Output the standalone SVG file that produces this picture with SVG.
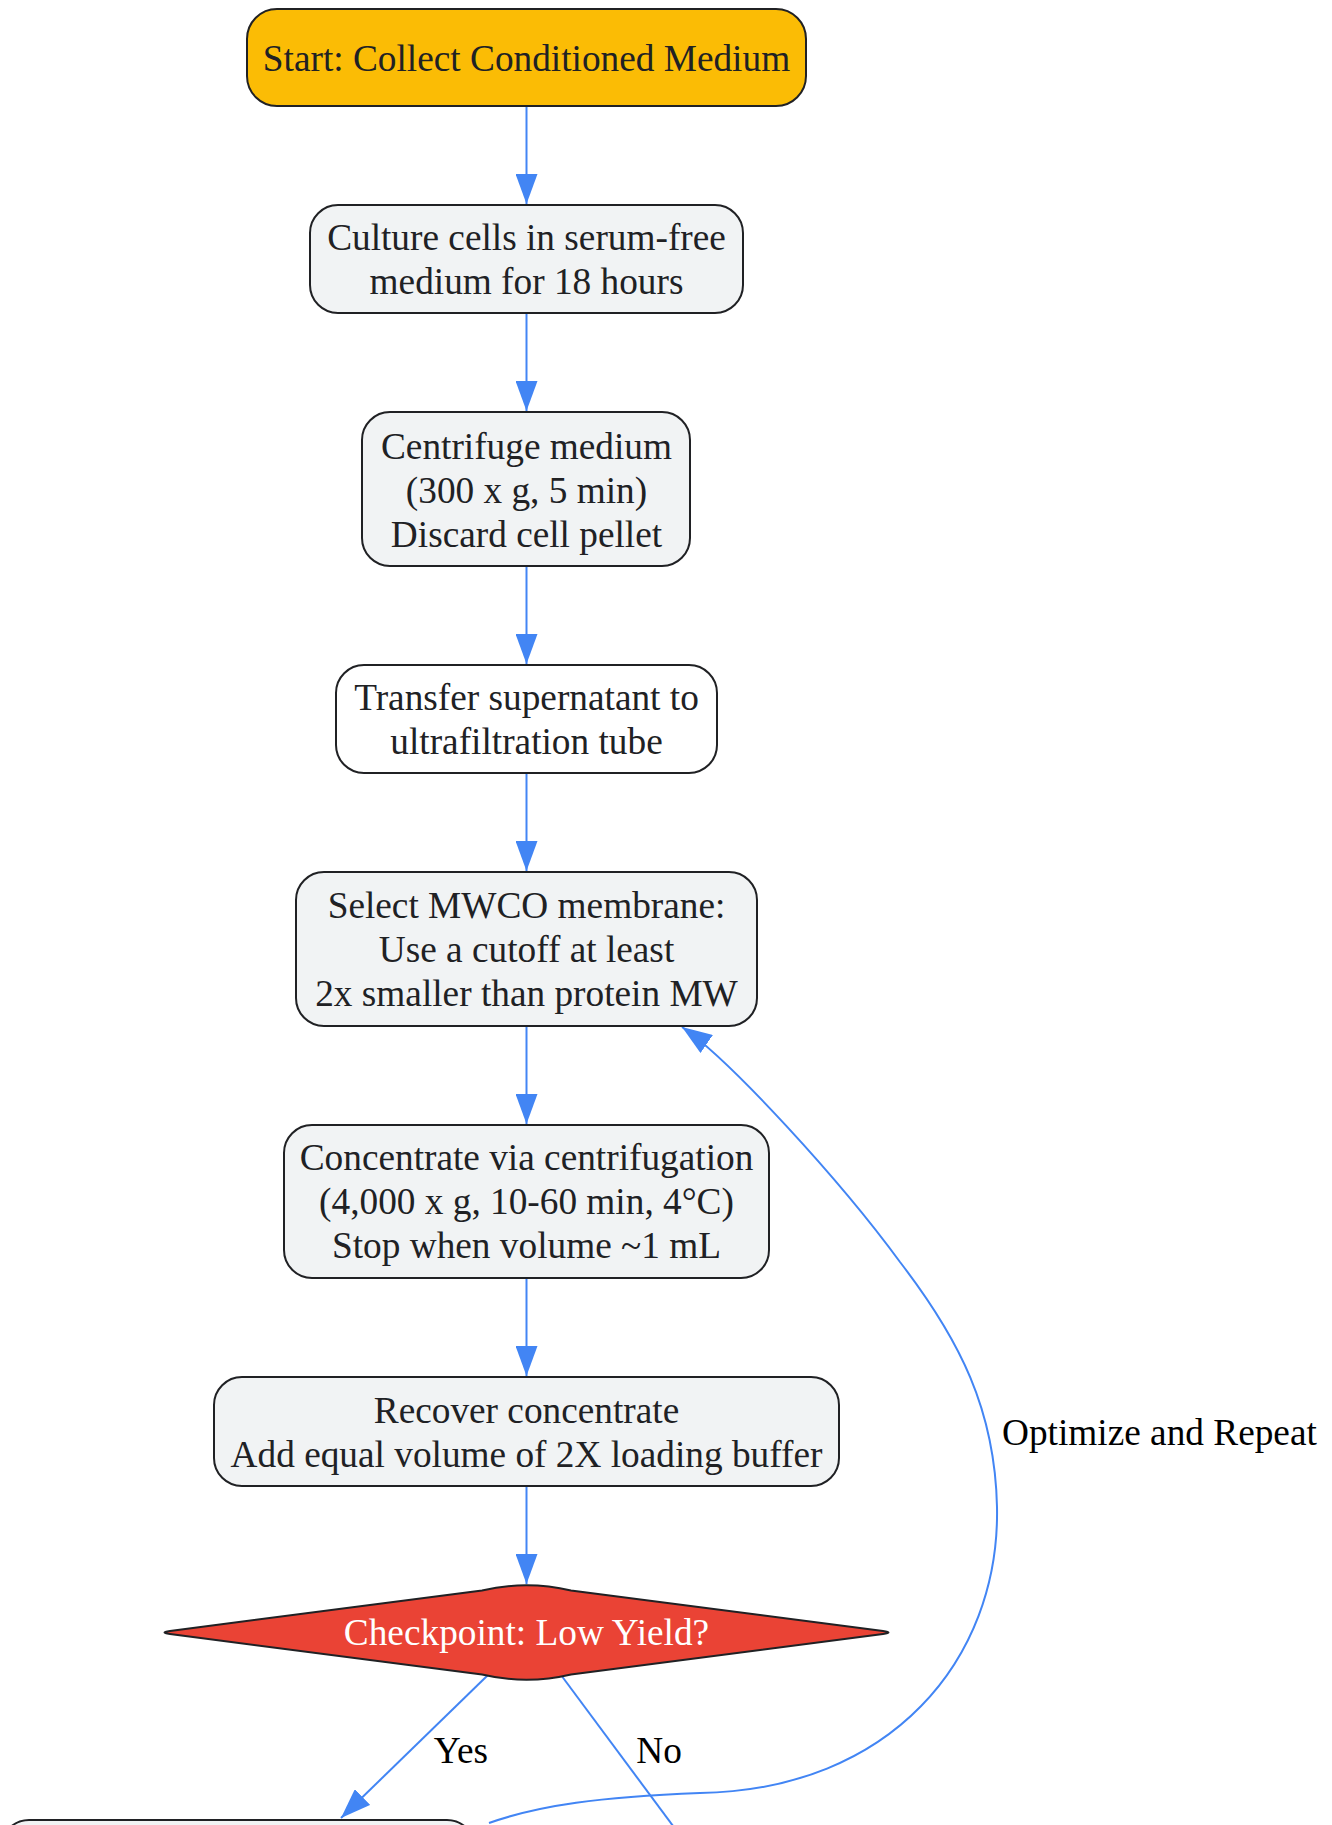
<svg xmlns="http://www.w3.org/2000/svg" width="1332" height="1825" viewBox="0 0 1332 1825">
  <style>
    .node rect, .node path { stroke: #202124; stroke-width: 2; }
    .proc { fill: #F1F3F4; }
    .t { font-family: "Liberation Serif", "Times New Roman", serif; font-size: 37.3px; fill: #202124; text-anchor: middle; }
    .lbl { font-family: "Liberation Serif", "Times New Roman", serif; font-size: 37.3px; fill: #000000; }
    .edge { fill: none; stroke: #4285F4; stroke-width: 2; }
  </style>
  <defs>
    <marker id="arrow" markerUnits="userSpaceOnUse" markerWidth="30" markerHeight="22" refX="30" refY="11" orient="auto">
      <path d="M0,0 L30,11 L0,22 Z" fill="#4285F4"/>
    </marker>
  </defs>
  <rect width="1332" height="1825" fill="#ffffff"/>

  <g id="connectors">
    <line class="edge" x1="526.5" y1="106" x2="526.5" y2="204" marker-end="url(#arrow)"/>
    <line class="edge" x1="526.5" y1="313" x2="526.5" y2="411" marker-end="url(#arrow)"/>
    <line class="edge" x1="526.5" y1="566" x2="526.5" y2="664" marker-end="url(#arrow)"/>
    <line class="edge" x1="526.5" y1="773" x2="526.5" y2="871" marker-end="url(#arrow)"/>
    <line class="edge" x1="526.5" y1="1026" x2="526.5" y2="1124" marker-end="url(#arrow)"/>
    <line class="edge" x1="526.5" y1="1278" x2="526.5" y2="1376" marker-end="url(#arrow)"/>
    <line class="edge" x1="526.5" y1="1486" x2="526.5" y2="1584" marker-end="url(#arrow)"/>
    <line class="edge" x1="488" y1="1675" x2="341" y2="1818" marker-end="url(#arrow)"/>
    <line class="edge" x1="561" y1="1675" x2="728" y2="1900"/>
    <path class="edge" d="M 489 1823 C 540 1805, 600 1797, 700 1793 C 890 1790, 1000 1660, 997 1507 C 995 1410, 960 1340, 900 1262 C 840 1180, 730 1060, 682 1027" marker-end="url(#arrow)"/>
    <text class="lbl" x="461" y="1763" text-anchor="middle">Yes</text>
    <text class="lbl" x="659" y="1763" text-anchor="middle">No</text>
    <text class="lbl" x="1002" y="1445">Optimize and Repeat</text>
  </g>

  <g id="start" class="node">
    <rect x="247" y="9" width="559" height="97" rx="30" fill="#FBBC05"/>
    <text class="t" x="526.5" y="71">Start: Collect Conditioned Medium</text>
  </g>

  <g id="culture" class="node">
    <rect class="proc" x="310" y="205" width="433" height="108" rx="28"/>
    <text class="t" x="526.5" y="250">Culture cells in serum-free</text>
    <text class="t" x="526.5" y="294">medium for 18 hours</text>
  </g>

  <g id="centrifuge" class="node">
    <rect class="proc" x="362" y="412" width="328" height="154" rx="28"/>
    <text class="t" x="526.5" y="459">Centrifuge medium</text>
    <text class="t" x="526.5" y="503">(300 x g, 5 min)</text>
    <text class="t" x="526.5" y="547">Discard cell pellet</text>
  </g>

  <g id="transfer" class="node">
    <rect x="336" y="665" width="381" height="108" rx="28" fill="#ffffff"/>
    <text class="t" x="526.5" y="710">Transfer supernatant to</text>
    <text class="t" x="526.5" y="754">ultrafiltration tube</text>
  </g>

  <g id="mwco" class="node">
    <rect class="proc" x="296" y="872" width="461" height="154" rx="28"/>
    <text class="t" x="526.5" y="918">Select MWCO membrane:</text>
    <text class="t" x="526.5" y="962">Use a cutoff at least</text>
    <text class="t" x="526.5" y="1006">2x smaller than protein MW</text>
  </g>

  <g id="concentrate" class="node">
    <rect class="proc" x="284" y="1125" width="485" height="153" rx="28"/>
    <text class="t" x="526.5" y="1170">Concentrate via centrifugation</text>
    <text class="t" x="526.5" y="1214">(4,000 x g, 10-60 min, 4°C)</text>
    <text class="t" x="526.5" y="1258">Stop when volume ~1 mL</text>
  </g>

  <g id="recover" class="node">
    <rect class="proc" x="214" y="1377" width="625" height="109" rx="28"/>
    <text class="t" x="526.5" y="1423">Recover concentrate</text>
    <text class="t" x="526.5" y="1467">Add equal volume of 2X loading buffer</text>
  </g>

  <g id="checkpoint" class="node">
    <path d="M 482 1590.5 Q 526.5 1580 571 1590.5 L 883 1631 Q 894 1632.5 883 1634 L 571 1674.5 Q 526.5 1685 482 1674.5 L 170 1634 Q 159 1632.5 170 1631 Z" fill="#EA4335"/>
    <text class="t" x="526.5" y="1645" style="fill:#ffffff">Checkpoint: Low Yield?</text>
  </g>

  <g id="yes-step" class="node">
    <rect class="proc" x="1" y="1820" width="474" height="110" rx="28"/>
  </g>
</svg>
